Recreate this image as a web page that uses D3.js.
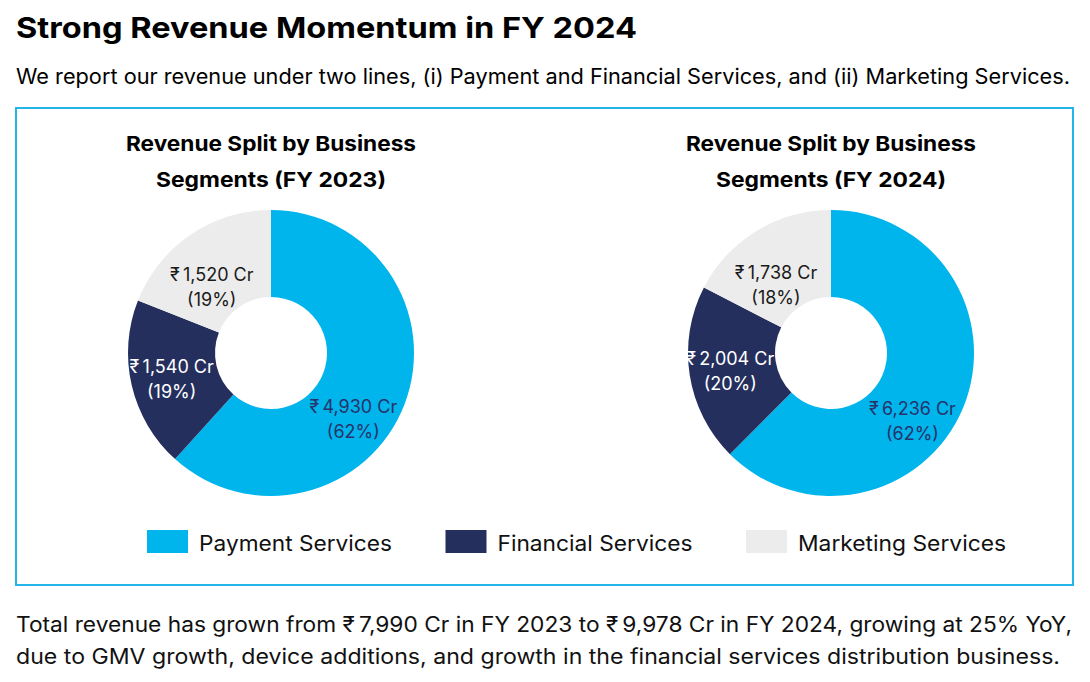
<!DOCTYPE html>
<html>
<head>
<meta charset="utf-8">
<script src="https://cdn.jsdelivr.net/npm/d3@7"></script>
<style>
  body { margin: 0; background: #fff; }
  svg { display: block; font-family: Inter, "Noto Sans", sans-serif; }
</style>
</head>
<body>
<svg id="chart" width="1090" height="682"></svg>
<script>
// data
var segments = ["Payment Services", "Financial Services", "Marketing Services"];
var years = ["FY 2023", "FY 2024"];
var revenue2023 = [4930, 1540, 1520];
var revenue2024 = [6236, 2004, 1738];
var share2023 = [62, 19, 19];
var share2024 = [62, 20, 18];

var colors = ["#00b4ec", "#252f5e", "#ececec"];
var labelColors = ["#27336a", "#ffffff", "#1a1a1a"];
// labels sit near the centroid, nudged like the original
var nudge = [[-11, 30], [-2, 3], [-3, 17]];
// the original face runs wider than Inter, so stretch the long lines
var legendWidths = [193, 195, 208];

var svg = d3.select("#chart");
var fmt = d3.format(",");

svg.append("text")
  .attr("x", 16).attr("y", 38)
  .attr("font-size", 29).attr("font-weight", 700)
  .attr("textLength", 621).attr("lengthAdjust", "spacingAndGlyphs")
  .attr("fill", "#000")
  .text("Strong Revenue Momentum in FY 2024");

svg.append("text")
  .attr("x", 16).attr("y", 84)
  .attr("font-size", 21)
  .attr("textLength", 1054).attr("lengthAdjust", "spacingAndGlyphs")
  .attr("fill", "#000")
  .text("We report our revenue under two lines, (i) Payment and Financial Services, and (ii) Marketing Services.");

svg.append("rect")
  .attr("x", 16).attr("y", 108)
  .attr("width", 1057).attr("height", 477)
  .attr("fill", "none")
  .attr("stroke", "#22b5ea")
  .attr("stroke-width", 2);

var pie = d3.pie().sort(null).value(function(d) { return d; });
var arc = d3.arc().innerRadius(56).outerRadius(143);
var labelArc = d3.arc().innerRadius(100).outerRadius(100);

var charts = [
  { year: years[0], values: revenue2023, shares: share2023, cx: 271 },
  { year: years[1], values: revenue2024, shares: share2024, cx: 831 }
];

charts.forEach(function(c) {
  var g = svg.append("g").attr("transform", "translate(" + c.cx + ",353)");

  var title = svg.append("text")
    .attr("text-anchor", "middle")
    .attr("font-size", 20.5).attr("font-weight", 700)
    .attr("fill", "#000");
  title.append("tspan").attr("x", c.cx).attr("y", 151)
    .attr("textLength", 290).attr("lengthAdjust", "spacingAndGlyphs")
    .text("Revenue Split by Business");
  title.append("tspan").attr("x", c.cx).attr("y", 187)
    .attr("textLength", 230).attr("lengthAdjust", "spacingAndGlyphs")
    .text("Segments (" + c.year + ")");

  var arcs = pie(c.values);

  g.selectAll("path")
    .data(arcs)
    .join("path")
    .attr("d", arc)
    .attr("fill", function(d, i) { return colors[i]; });

  var labels = g.selectAll("text.lbl")
    .data(arcs)
    .join("text")
    .attr("class", "lbl")
    .attr("text-anchor", "middle")
    .attr("font-size", 18)
    .attr("fill", function(d, i) { return labelColors[i]; })
    .attr("transform", function(d, i) {
      var p = labelArc.centroid(d);
      return "translate(" + (p[0] + nudge[i][0]) + "," + (p[1] + nudge[i][1]) + ")";
    });

  labels.append("tspan")
    .attr("x", 0).attr("y", -6)
    .text(function(d) { return "\u20B9\u2009" + fmt(d.data) + " Cr"; });
  labels.append("tspan")
    .attr("x", 0).attr("y", 19)
    .text(function(d, i) { return "(" + c.shares[i] + "%)"; });
});

// legend
var legend = svg.append("g");
var lx = 147;
segments.forEach(function(s, i) {
  legend.append("rect")
    .attr("x", lx).attr("y", 530)
    .attr("width", 41).attr("height", 23)
    .attr("fill", colors[i]);
  legend.append("text")
    .attr("x", lx + 52).attr("y", 551)
    .attr("font-size", 21.5)
    .attr("textLength", legendWidths[i]).attr("lengthAdjust", "spacingAndGlyphs")
    .attr("fill", "#111")
    .text(s);
  lx += 52 + legendWidths[i] + 53.5;
});

// footer
var footer = [
  "Total revenue has grown from \u20B9\u20097,990 Cr in FY 2023 to \u20B9\u20099,978 Cr in FY 2024, growing at 25% YoY,",
  "due to GMV growth, device additions, and growth in the financial services distribution business."
];
var footerWidths = [1056, 1044];
svg.selectAll("text.foot")
  .data(footer)
  .join("text")
  .attr("class", "foot")
  .attr("x", 16)
  .attr("y", function(d, i) { return 632 + i * 32; })
  .attr("font-size", 21)
  .attr("textLength", function(d, i) { return footerWidths[i]; })
  .attr("lengthAdjust", "spacingAndGlyphs")
  .attr("fill", "#111")
  .text(function(d) { return d; });
</script>
</body>
</html>
